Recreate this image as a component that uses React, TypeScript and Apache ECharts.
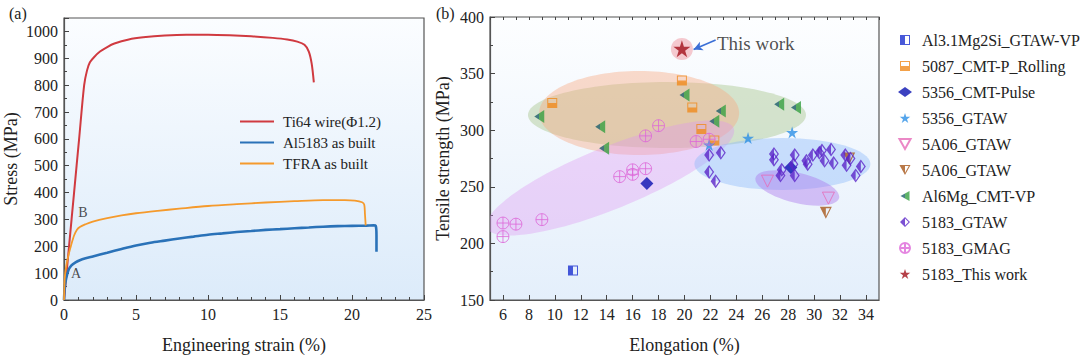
import React, { useEffect, useRef } from 'react';
import * as echarts from 'echarts';

const FONT = "'Liberation Serif', 'Times New Roman', serif";

// ---------- Panel (a): stress-strain curves ----------
const ti64Strain = [0, 0.35, 0.7, 1.05, 1.4, 1.6, 1.8, 2.1, 2.5, 3.0, 3.5, 4.5, 5.5, 7, 8.5, 10, 11.5, 13, 14.5, 15.5, 16.2, 16.7, 17.0, 17.2, 17.35];
const ti64Stress = [0, 200, 400, 600, 800, 855, 885, 905, 925, 942, 955, 970, 978, 985, 988, 988, 986, 982, 976, 970, 962, 950, 925, 880, 810];

const al5183Strain = [0, 0.05, 0.15, 0.3, 0.5, 0.8, 1.1, 1.5, 2, 3, 4, 5, 6, 7, 8, 9, 10, 11, 12, 13, 14, 15, 16, 17, 18, 19, 20, 21, 21.5, 21.65, 21.7, 21.7];
const al5183Stress = [0, 45, 80, 110, 128, 140, 148, 155, 162, 176, 190, 203, 213, 221, 229, 236, 243, 248, 253, 257, 261, 264, 267, 270, 273, 275, 276, 277, 278, 276, 240, 180];

const tfraStrain = [0, 0.05, 0.15, 0.3, 0.5, 0.7, 0.9, 1.1, 1.5, 2, 3, 4, 5, 6.5, 8, 10, 12, 14, 16, 18, 19.5, 20.2, 20.7, 20.85, 20.9, 20.95];
const tfraStress = [0, 80, 125, 165, 205, 240, 262, 272, 282, 292, 305, 315, 323, 332, 340, 350, 357, 363, 368, 372, 372, 370, 364, 355, 320, 278];

const curveNames = ['Ti64 wire(Φ1.2)', 'Al5183 as built', 'TFRA as built'];
const pointLabelsA = [
  { name: 'A', value: [0.83, 97] },
  { name: 'B', value: [1.32, 325] },
];

// ---------- Panel (b): scatter ----------
const al31Data = [[11.4, 176]];
const cmtRolling5087 = [[9.8, 324], [19.8, 344], [20.6, 320], [21.3, 301], [22.3, 291]];
const cmtPulse5356 = [[17.1, 253], [28.2, 267]];
const gtaw5356 = [[21.9, 287], [24.9, 293], [28.3, 298]];
const gtaw5A06a = [[26.4, 255], [31.1, 240]];
const gtaw5A06b = [[30.9, 227], [32.7, 275]];
const al6MgData = [[8.8, 312], [13.5, 303], [13.8, 284], [20.0, 331], [22.3, 308], [22.8, 317], [27.3, 323], [28.6, 320]];
const gtaw5183 = [
  [21.9, 278], [22.8, 280], [21.9, 263], [22.4, 255],
  [26.9, 279], [26.9, 274], [27.5, 265], [27.4, 260],
  [28.5, 278], [28.4, 270], [28.5, 260], [29.5, 270], [29.4, 273],
  [29.9, 278], [30.4, 280], [30.6, 282], [31.3, 283], [30.8, 273], [31.5, 271],
  [32.4, 278], [32.5, 269], [32.8, 275], [33.6, 268], [33.2, 260],
];
const gmag5183 = [[6, 218], [7, 217], [6, 206], [9, 221], [15, 259], [16, 261], [16, 265], [17, 266], [17, 295], [18, 304], [20.9, 290], [21.9, 292]];
const thisWork = [[19.8, 372]];
const thisWorkLabel = [{ name: 'This work', value: [22.5, 377] }];
const arrowFrom = [22.4, 379.7];
const arrowTo = [20.7, 371.2];

const scatterNames = [
  'Al3.1Mg2Si_GTAW-VP', '5087_CMT-P_Rolling', '5356_CMT-Pulse', '5356_GTAW', '5A06_GTAW',
  '5A06_GTAW ', 'Al6Mg_CMT-VP', '5183_GTAW', '5183_GMAG', '5183_This work',
];

// ellipse regions: centre in data units
const ellipseCentres = [[18.65, 313.4], [16.5, 315.2], [14.28, 257.8], [27.55, 270.1], [28.7, 249], [19.8, 371.7]];
const ellipseLook = [
  { rx: 139, ry: 33, rot: 0, fill: 'rgba(165,195,135,0.42)' },
  { rx: 100, ry: 42, rot: 0, fill: 'rgba(247,170,130,0.42)' },
  { rx: 133, ry: 31, rot: 22, fill: 'rgba(222,150,240,0.36)' },
  { rx: 88, ry: 26, rot: 0, fill: 'rgba(140,185,250,0.42)' },
  { rx: 43, ry: 15, rot: -13.7, fill: 'rgba(170,115,235,0.42)' },
  { rx: 11, ry: 11, rot: 0, fill: 'rgba(240,150,160,0.5)' },
];

const STAR = 'path://M5,0L6.12,3.46L9.76,3.46L6.81,5.59L7.94,9.05L5,6.9L2.06,9.05L3.19,5.59L0.24,3.46L3.88,3.46Z';
const HALF_SQ_LEFT = 'path://M0,0L10,0L10,10L0,10ZM5,1L5,9L9,9L9,1Z';
const HALF_SQ_BOTTOM = 'path://M0,0L10,0L10,10L0,10ZM1,1L1,5L9,5L9,1Z';
const TRI_DOWN = 'path://M0,0L10,0L5,9Z';
const TRI_DOWN_HALF = 'path://M0,0L10,0L5,9ZM5,1L5,7L8.4,1Z';
const TRI_LEFT = 'path://M0,5L9,0L9,10Z';
const DIAMOND_HALF = 'path://M5,0L10,5L5,10L0,5ZM5,1.5L5,8.5L8.5,5Z';
const CIRCLE_PLUS = 'path://M0,5A5,5,0,1,1,10,5A5,5,0,1,1,0,5ZM5,0L5,10M0,5L10,5';

function buildOption() {
  const axisText = { fontFamily: FONT, fontSize: 16, color: '#222' };
  const nameText = { fontFamily: FONT, fontSize: 18, color: '#222' };
  const axisLine = { show: true, lineStyle: { color: '#555', width: 1.2 } };
  const gridBgA = {
    type: 'linear', x: 0, y: 0, x2: 0, y2: 1,
    colorStops: [{ offset: 0, color: '#fbfdff' }, { offset: 1, color: '#dcebfa' }],
  };
  const gridBgB = {
    type: 'linear', x: 0, y: 0, x2: 0, y2: 1,
    colorStops: [{ offset: 0, color: '#fdfeff' }, { offset: 1, color: '#e4effb' }],
  };
  const mk = (xs: number[], ys: number[]) => xs.map((x, i) => [x, ys[i]]);
  const plain = (v: number) => String(v);

  return {
    animation: false,
    backgroundColor: '#ffffff',
    textStyle: { fontFamily: FONT },
    title: [
      { text: '(a)', left: 4, top: 0, textStyle: { fontFamily: FONT, fontSize: 16, fontWeight: 'normal', color: '#222' } },
      { text: '(b)', left: 431, top: 0, textStyle: { fontFamily: FONT, fontSize: 16, fontWeight: 'normal', color: '#222' } },
    ],
    grid: [
      { left: 64, top: 18, width: 360, height: 282, show: true, borderColor: '#555', borderWidth: 1.2, backgroundColor: gridBgA },
      { left: 490, top: 17, width: 389, height: 283, show: true, borderColor: '#555', borderWidth: 1.2, backgroundColor: gridBgB },
    ],
    legend: [
      {
        data: curveNames,
        orient: 'vertical', left: 235, top: 109,
        itemWidth: 34, itemHeight: 10, itemGap: 6,
        icon: 'path://M0,4L34,4L34,6L0,6Z',
        textStyle: { fontFamily: FONT, fontSize: 15, color: '#222', padding: [0, 0, 0, 4] },
      },
      {
        data: scatterNames,
        orient: 'vertical', left: 893, top: 27,
        itemWidth: 14, itemHeight: 10, itemGap: 10,
        textStyle: { fontFamily: FONT, fontSize: 16, color: '#222', padding: [0, 0, 0, 5] },
      },
    ],
    xAxis: [
      {
        gridIndex: 0, type: 'value', min: 0, max: 25, interval: 5,
        name: 'Engineering strain (%)', nameLocation: 'middle', nameGap: 36, nameTextStyle: nameText,
        axisLine, axisTick: { inside: true, length: 5, lineStyle: { color: '#444' } },
        minorTick: { show: true, splitNumber: 5, length: 3, lineStyle: { color: '#444' } },
        axisLabel: { ...axisText, margin: 6, formatter: plain }, splitLine: { show: false },
      },
      {
        gridIndex: 1, type: 'value', min: 5, max: 35,
        name: 'Elongation (%)', nameLocation: 'middle', nameGap: 36, nameTextStyle: nameText,
        axisLine,
        axisTick: { inside: true, length: 5, customValues: [6, 8, 10, 12, 14, 16, 18, 20, 22, 24, 26, 28, 30, 32, 34], lineStyle: { color: '#444' } },
        axisLabel: { ...axisText, margin: 6, formatter: plain, customValues: [6, 8, 10, 12, 14, 16, 18, 20, 22, 24, 26, 28, 30, 32, 34] },
        splitLine: { show: false },
      },
      {
        gridIndex: 1, type: 'value', min: 5, max: 35, interval: 1,
        axisLine: { show: false },
        axisTick: { inside: true, length: 3, lineStyle: { color: '#444' } },
        axisLabel: { show: false }, splitLine: { show: false },
      },
    ],
    yAxis: [
      {
        gridIndex: 0, type: 'value', min: 0, max: 1050, interval: 100,
        name: 'Stress (MPa)', nameLocation: 'middle', nameGap: 44, nameTextStyle: nameText,
        axisLine, axisTick: { inside: true, length: 5, lineStyle: { color: '#444' } },
        minorTick: { show: true, splitNumber: 2, length: 3, lineStyle: { color: '#444' } },
        axisLabel: { ...axisText, margin: 6, showMaxLabel: false, formatter: plain }, splitLine: { show: false },
      },
      {
        gridIndex: 1, type: 'value', min: 150, max: 400, interval: 50,
        name: 'Tensile strength (MPa)', nameLocation: 'middle', nameGap: 38, nameTextStyle: nameText,
        axisLine, axisTick: { inside: true, length: 5, lineStyle: { color: '#444' } },
        minorTick: { show: true, splitNumber: 2, length: 3, lineStyle: { color: '#444' } },
        axisLabel: { ...axisText, margin: 6, formatter: plain }, splitLine: { show: false },
      },
    ],
    series: [
      // Panel (a)
      {
        name: curveNames[0], type: 'line', xAxisIndex: 0, yAxisIndex: 0, data: mk(ti64Strain, ti64Stress),
        symbol: 'none', smooth: 0.3, lineStyle: { color: '#d03a40', width: 2 }, itemStyle: { color: '#d03a40' },
      },
      {
        name: curveNames[1], type: 'line', xAxisIndex: 0, yAxisIndex: 0, data: mk(al5183Strain, al5183Stress),
        symbol: 'none', smooth: 0.3, lineStyle: { color: '#2a72b8', width: 2.6 }, itemStyle: { color: '#2a72b8' },
      },
      {
        name: curveNames[2], type: 'line', xAxisIndex: 0, yAxisIndex: 0, data: mk(tfraStrain, tfraStress),
        symbol: 'none', smooth: 0.3, lineStyle: { color: '#f59a2c', width: 1.8 }, itemStyle: { color: '#f59a2c' },
      },
      {
        type: 'scatter', xAxisIndex: 0, yAxisIndex: 0, data: pointLabelsA, symbolSize: 0, silent: true,
        label: { show: true, position: 'inside', formatter: '{b}', fontFamily: FONT, fontSize: 14, color: '#222' },
      },
      // Panel (b) ellipses
      {
        type: 'custom', xAxisIndex: 1, yAxisIndex: 1, data: ellipseCentres, clip: true, silent: true, z: 1,
        renderItem: (params: any, api: any) => {
          const c = api.coord([api.value(0), api.value(1)]);
          const s = ellipseLook[params.dataIndex];
          return {
            type: 'ellipse', x: c[0], y: c[1], rotation: (s.rot * Math.PI) / 180,
            shape: { cx: 0, cy: 0, rx: s.rx, ry: s.ry },
            style: { fill: s.fill },
          };
        },
      },
      {
        name: scatterNames[0], type: 'scatter', xAxisIndex: 1, yAxisIndex: 1, data: al31Data, z: 3,
        symbol: HALF_SQ_LEFT, symbolSize: 10, itemStyle: { color: '#1a30d0' },
      },
      {
        name: scatterNames[1], type: 'scatter', xAxisIndex: 1, yAxisIndex: 1, data: cmtRolling5087, z: 3,
        symbol: HALF_SQ_BOTTOM, symbolSize: 10, itemStyle: { color: '#f08a1c' },
      },
      {
        name: scatterNames[2], type: 'scatter', xAxisIndex: 1, yAxisIndex: 1, data: cmtPulse5356, z: 3,
        symbol: 'diamond', symbolSize: 13, itemStyle: { color: '#0a12b0' },
      },
      {
        name: scatterNames[3], type: 'scatter', xAxisIndex: 1, yAxisIndex: 1, data: gtaw5356, z: 3,
        symbol: STAR, symbolSize: 12, itemStyle: { color: '#2b8fe6' },
      },
      {
        name: scatterNames[4], type: 'scatter', xAxisIndex: 1, yAxisIndex: 1, data: gtaw5A06a, z: 3,
        symbol: TRI_DOWN, symbolSize: 12, itemStyle: { color: 'rgba(255,255,255,0)', borderColor: '#e66ab8', borderWidth: 1 },
      },
      {
        name: scatterNames[5], type: 'scatter', xAxisIndex: 1, yAxisIndex: 1, data: gtaw5A06b, z: 3,
        symbol: TRI_DOWN_HALF, symbolSize: 12, itemStyle: { color: '#a8581a' },
      },
      {
        name: scatterNames[6], type: 'scatter', xAxisIndex: 1, yAxisIndex: 1, data: al6MgData, z: 3,
        symbol: TRI_LEFT, symbolSize: [10, 13],
        itemStyle: {
          color: {
            type: 'linear', x: 0, y: 0, x2: 1, y2: 0,
            colorStops: [
              { offset: 0, color: '#1d5f6b' }, { offset: 0.5, color: '#1d5f6b' },
              { offset: 0.5, color: '#37a042' }, { offset: 1, color: '#37a042' },
            ],
          },
        },
      },
      {
        name: scatterNames[7], type: 'scatter', xAxisIndex: 1, yAxisIndex: 1, data: gtaw5183, z: 3,
        symbol: DIAMOND_HALF, symbolSize: [10, 14], itemStyle: { color: '#5b25c8' },
      },
      {
        name: scatterNames[8], type: 'scatter', xAxisIndex: 1, yAxisIndex: 1, data: gmag5183, z: 3,
        symbol: CIRCLE_PLUS, symbolSize: 12, itemStyle: { color: 'rgba(255,255,255,0)', borderColor: '#dd66d8', borderWidth: 1 },
      },
      {
        name: scatterNames[9], type: 'scatter', xAxisIndex: 1, yAxisIndex: 1, data: thisWork, z: 4,
        symbol: STAR, symbolSize: 17, itemStyle: { color: '#a3101a' },
        markLine: {
          silent: true, symbol: ['none', 'arrow'], symbolSize: [7, 9], animation: false,
          lineStyle: { color: '#3b6fd6', width: 1.6, type: 'solid' },
          label: { show: false },
          data: [[{ coord: arrowFrom }, { coord: arrowTo }]],
        },
      },
      {
        type: 'scatter', xAxisIndex: 1, yAxisIndex: 1, data: thisWorkLabel, symbolSize: 0, silent: true, z: 5,
        label: { show: true, position: 'right', distance: 0, formatter: '{b}', fontFamily: FONT, fontSize: 19, color: '#222' },
      },
    ],
  };
}

export default function App() {
  const ref = useRef<HTMLDivElement>(null);
  useEffect(() => {
    if (!ref.current) return;
    const chart = echarts.init(ref.current, null, { renderer: 'svg' });
    chart.setOption(buildOption() as any);
    return () => chart.dispose();
  }, []);
  return <div ref={ref} style={{ position: 'fixed', left: 0, top: 0, width: 1080, height: 360 }} />;
}
